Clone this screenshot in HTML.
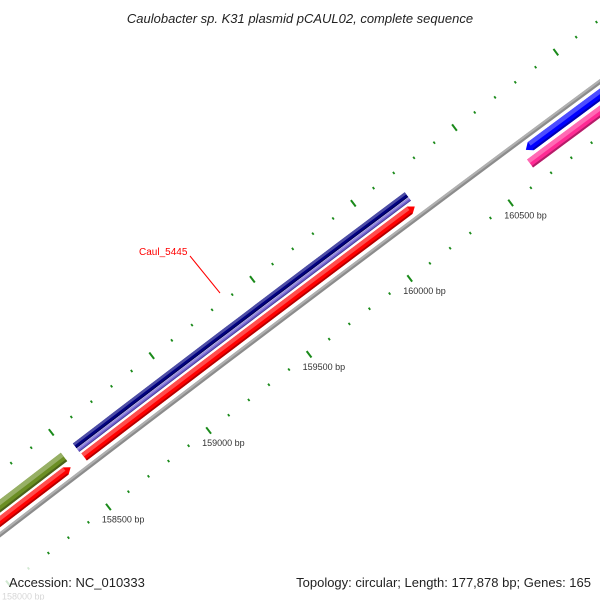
<!DOCTYPE html>
<html><head><meta charset="utf-8"><style>
html,body{margin:0;padding:0;background:#fff;overflow:hidden;}
svg{display:block;font-family:"Liberation Sans",sans-serif;}
</style></head><body>
<svg id="map" width="600" height="600" viewBox="0 0 600 600">
<rect width="600" height="600" fill="#fff"/>
<g id="ticks"></g>
<g id="feats"></g>
<text x="139" y="255" font-size="10" fill="#ff0000">Caul_5445</text>
<line x1="190" y1="256" x2="220" y2="293" stroke="#ff0000" stroke-width="1"/>
<rect x="0" y="566" width="600" height="34" fill="#fff" fill-opacity="0.8"/>
<text x="300" y="23" font-size="13" font-style="italic" text-anchor="middle" fill="#222">Caulobacter sp. K31 plasmid pCAUL02, complete sequence</text>
<text x="9" y="587" font-size="13" fill="#222">Accession: NC_010333</text>
<text x="591" y="587" font-size="13" fill="#222" text-anchor="end">Topology: circular; Length: 177,878 bp; Genes: 165</text>
</svg>
<script>
// feature data
const featNames = ["olive-gene","red-gene-1","navy-gene","lavender-gene","red-gene-caul-5445","blue-gene","pink-gene"];
const featStarts = [157000,157000,158541,158541,158544,160674,160655];
const featEnds = [158481,158477,160189,160189,160187,162500,162500];
const featStrand = [0,1,0,0,1,-1,0];
const featColors = ["#6b8e23","#ff0000","#000080","#6a5acd","#ff0000","#0000ff","#ff2a94"];
const featTrackInner = [17.5,6,22,17.5,6,-15.5,-29];
const featTrackOuter = [28,15,28,21.5,15,-5.5,-19];
// ruler data
const tickStart = 157500, tickEnd = 161800, tickStep = 100, majorStep = 500;

const NS="http://www.w3.org/2000/svg";
const R=40000, pxPerBp=0.2524, refBp=159750;
const ax=332.9, ay=281.2;
const nlen=Math.hypot(0.602,0.799);
const nx=0.602/nlen, ny=0.799/nlen;
const cx=ax+R*nx, cy=ay+R*ny;
const phi0=Math.atan2(-ny,-nx);
function P(bp,d){const f=phi0+(bp-refBp)*pxPerBp/R;return [cx+(R+d)*Math.cos(f), cy+(R+d)*Math.sin(f)];}
function band(s,e,d0,d1,arrow){
  const pts=[];const n=24;const head=6/pxPerBp;
  let s2=s,e2=e;
  if(arrow===1)e2=e-head; if(arrow===-1)s2=s+head;
  for(let i=0;i<=n;i++)pts.push(P(s2+(e2-s2)*i/n,d1));
  if(arrow===1)pts.push(P(e,(d0+d1)/2));
  for(let i=n;i>=0;i--)pts.push(P(s2+(e2-s2)*i/n,d0));
  if(arrow===-1)pts.push(P(s,(d0+d1)/2));
  return pts.map(p=>p[0].toFixed(2)+","+p[1].toFixed(2)).join(" ");
}
function shade(c,k){const r=parseInt(c.substr(1,2),16),g=parseInt(c.substr(3,2),16),b=parseInt(c.substr(5,2),16);
  const f=v=>Math.max(0,Math.min(255,Math.round(k>0?v+(255-v)*k:v*(1+k))));return "rgb("+f(r)+","+f(g)+","+f(b)+")";}
const fg=document.getElementById("feats");
{const pg=document.createElementNS(NS,"polygon");
pg.setAttribute("points",band(156000,163000,-2.2,2.2,0));pg.setAttribute("fill","#8c8c8c");


fg.appendChild(pg);
const hl=document.createElementNS(NS,"polygon");
hl.setAttribute("points",band(156000,163000,0,2.2,0));hl.setAttribute("fill","#b0b0b0");


fg.appendChild(hl);}
for(let i=0;i<featNames.length;i++){
  const d0=featTrackInner[i],d1=featTrackOuter[i],w=d1-d0;
  const g=document.createElementNS(NS,"g");
  
  
  const a=document.createElementNS(NS,"polygon");
  a.setAttribute("points",band(featStarts[i],featEnds[i],d0,d1,featStrand[i]));
  a.setAttribute("fill",featColors[i]);g.appendChild(a);
  const hi=document.createElementNS(NS,"polygon");
  hi.setAttribute("points",band(featStarts[i]+(featStrand[i]===-1?25:0),featEnds[i]-(featStrand[i]===1?25:0),d0+w*0.55,d1,0));
  hi.setAttribute("fill",shade(featColors[i],0.3));g.appendChild(hi);
  const lo=document.createElementNS(NS,"polygon");
  lo.setAttribute("points",band(featStarts[i]+(featStrand[i]===-1?25:0),featEnds[i]-(featStrand[i]===1?25:0),d0,d0+w*0.2,0));
  lo.setAttribute("fill",shade(featColors[i],-0.3));g.appendChild(lo);
  fg.appendChild(g);
}
const tg=document.getElementById("ticks");
for(let bp=tickStart;bp<=tickEnd;bp+=tickStep){
  const major=bp%majorStep===0;const L=major?4:1.3;
  for(const d of [50,-44]){
    const p0=P(bp,d-L),p1=P(bp,d+L);
    const ln=document.createElementNS(NS,"line");
    ln.setAttribute("x1",p0[0]);ln.setAttribute("y1",p0[1]);ln.setAttribute("x2",p1[0]);ln.setAttribute("y2",p1[1]);
    ln.setAttribute("stroke","#1a8a1a");ln.setAttribute("stroke-width",major?2:1.8);
    
    
    tg.appendChild(ln);
  }
  if(major){
    const p=P(bp,-44);
    const t=document.createElementNS(NS,"text");
    t.setAttribute("x",(p[0]-6.5).toFixed(1));t.setAttribute("y",(p[1]+15.5).toFixed(1));
    t.setAttribute("font-size","9");t.setAttribute("fill","#333");
    t.textContent=bp+" bp";
    
    
    tg.appendChild(t);
  }
}
</script>
</body></html>
